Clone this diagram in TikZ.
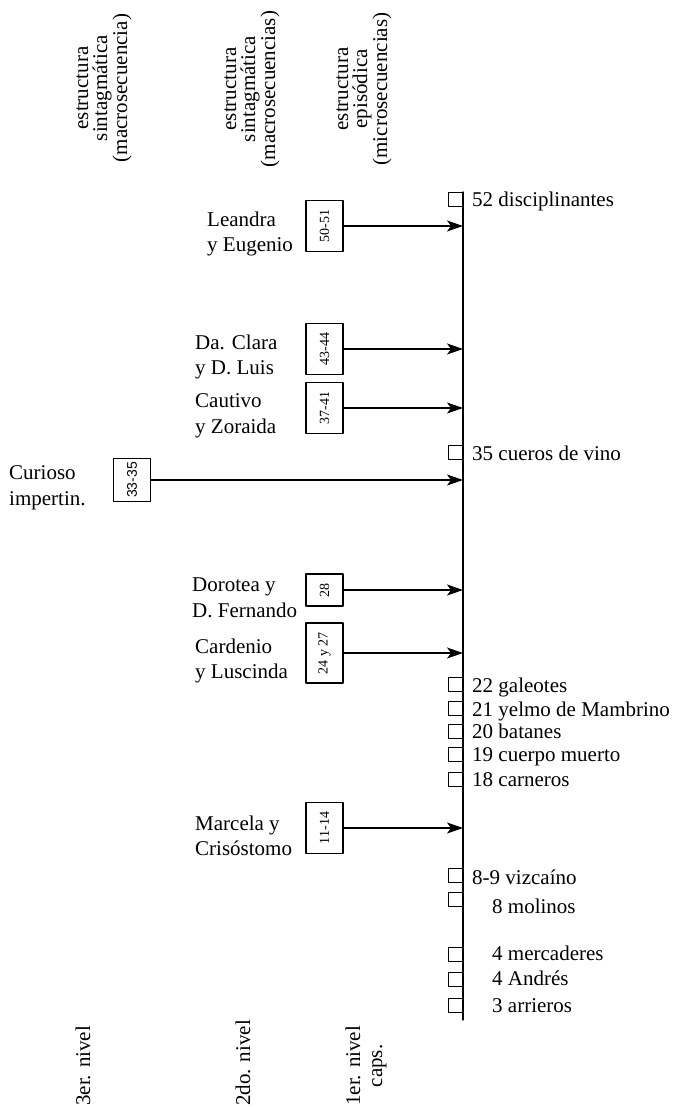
\documentclass[tikz,border=0pt]{standalone}
\usepackage{fontspec}
\setmainfont{Liberation Serif}
\newfontfamily\numsans{Liberation Sans}
\usepackage{tikz}
\usetikzlibrary{arrows.meta}

\tikzset{
  numbox/.style={draw,line width=1.1pt,rotate=90,minimum height=37pt,inner xsep=9pt,
    font=\fontsize{14}{14}\selectfont},
  sqbox/.style={draw,line width=1pt,minimum size=14pt,inner sep=0pt},
  episode/.style={anchor=west,align=left,inner sep=0pt},
  header/.style={rotate=90,align=center,inner sep=0pt,font=\fontsize{21}{19}\selectfont},
  level/.style={rotate=90,anchor=west,align=center,inner sep=0pt,font=\fontsize{21}{22}\selectfont}
}

\begin{document}
\begin{tikzpicture}[line cap=round,line join=round,>={Stealth[length=16pt,width=11pt,inset=4pt]},
  x=1pt,y=-1pt,every node/.style={font=\fontsize{21}{25.5}\selectfont}]
\useasboundingbox (0,0) rectangle (674,1107);

% column headings
\node[header] (h3) at (104,88) {estructura\\sintagmática\\(macrosecuencia)};
\node[header] (h2) at (252,89) {estructura\\sintagmática\\(macrosecuencias)};
\node[header] (h1) at (364,89) {estructura\\episódica\\(microsecuencias)};

% 1er. nivel: chapters axis
\coordinate (top) at (463,192);
\coordinate (bot) at (463,1020);
\draw[line width=1.2pt] (top) -- (bot);

\foreach \sb/\tb/\tx/\lab [count=\i] in {207/207/472/52 disciplinantes,460/460/472/35 cueros de vino,
  692/692/472/22 galeotes,716/716/472/21 yelmo de Mambrino,739/738/472/20 batanes,
  762/761/472/19 cuerpo muerto,787/786/472/18 carneros,883/884/472/8-9 vizcaíno,
  907/913/492/8 molinos,962/960/492/4 mercaderes,987/985/492/4 Andrés,1013/1012/492/3 arrieros}
{
  \node[sqbox,anchor=south east] (sq\i) at (463,\sb) {};
  \node[anchor=base west,inner sep=0pt] (ep\i) at (\tx,\tb) {\lab};
}

% 2do. nivel
\node[numbox] (b5051) at (324.5,226) {50-51};
\node[numbox] (b4344) at (324.5,349) {43-44};
\node[numbox] (b3741) at (324.5,408) {37-41};
\node[numbox] (b28) at (324.5,590) {28};
\node[numbox] (b2427) at (324.5,653) {24 y 27};
\node[numbox] (b1114) at (324.5,828) {11-14};

\node[episode] (leandra) at (207,234) {Leandra\\y Eugenio};
\node[episode] (clara) at (195,357) {Da. Clara\\y D. Luis};
\node[episode] (cautivo) at (195,416) {Cautivo\\y Zoraida};
\node[episode] (dorotea) at (192,598) {Dorotea y\\D. Fernando};
\node[episode] (cardenio) at (195,661) {Cardenio\\y Luscinda};
\node[episode] (marcela) at (195,836) {Marcela y\\Crisóstomo};

% 3er. nivel
\node[numbox,inner xsep=3.5pt,font=\fontsize{14}{14}\numsans] (b3335) at (132,480) {33-35};
\node[episode] (curioso) at (9,488) {Curioso\\impertin.};

\foreach \b in {b5051,b4344,b3741,b28,b2427,b1114,b3335}
  \draw[->,line width=1.1pt] (\b.south) -- (\b.south -| top);

% levels
\node[level] (n3) at (83,1106) {3er. nivel};
\node[level] (n2) at (243,1106) {2do. nivel};
\node[level] (n1) at (366,1106) {1er. nivel\\caps.};
\end{tikzpicture}
\end{document}
